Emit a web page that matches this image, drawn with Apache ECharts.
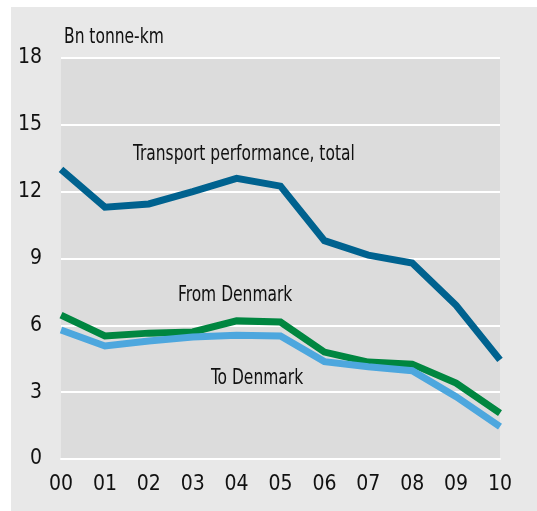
<!DOCTYPE html>
<html><head><meta charset="utf-8">
<script src="https://cdn.jsdelivr.net/npm/echarts@6/dist/echarts.min.js"></script>
<style>html,body{margin:0;padding:0;background:#fff}#c{width:537px;height:511px}</style>
</head><body><div id="c"></div>
<script>
const years = ['00','01','02','03','04','05','06','07','08','09','10'];
const total = [13.0, 11.3, 11.45, 12.0, 12.6, 12.25, 9.8, 9.15, 8.8, 6.9, 4.45];
const fromDK = [6.46, 5.52, 5.65, 5.7, 6.2, 6.15, 4.8, 4.35, 4.26, 3.41, 2.06];
const toDK = [5.79, 5.07, 5.3, 5.48, 5.56, 5.52, 4.37, 4.14, 3.96, 2.8, 1.45];
const yTicks = [0, 3, 6, 9, 12, 15, 18];
const labels = ['Bn tonne-km', 'Transport performance, total', 'From Denmark', 'To Denmark'];

const FONT = '"DejaVu Sans Condensed", "Liberation Sans Narrow", sans-serif';
const SX = 0.82;
const txt = (text, x, y) => ({
  type: 'text', x, y, scaleX: SX, z: 10, silent: true,
  style: { text, font: '21px ' + FONT, fill: '#111', textVerticalAlign: 'top' }
});
const chart = echarts.init(document.getElementById('c'));
const mk = (name, data, color) => ({
  name, type: 'line', data, symbol: 'none', smooth: false,
  lineStyle: { color, width: 7, cap: 'butt', join: 'miter' }, z: 3
});
chart.setOption({
  animation: false,
  backgroundColor: '#ffffff',
  graphic: [
    { type: 'rect', left: 11, top: 7, shape: { width: 526, height: 504 }, style: { fill: '#e8e8e8' }, z: -10, silent: true },
    txt(labels[0], 64, 27),
    txt(labels[1], 133, 144),
    txt(labels[2], 178, 285),
    txt(labels[3], 211, 368.5)
  ],
  grid: { left: 61, right: 37, top: 58, bottom: 52, show: true, backgroundColor: '#dcdcdc', borderWidth: 0 },
  xAxis: {
    type: 'category', data: years, boundaryGap: false,
    axisLine: { show: true, lineStyle: { color: '#ffffff', width: 2 } },
    axisTick: { show: false },
    axisLabel: { color: '#111', fontFamily: FONT, fontSize: 21, margin: 15 },
    splitLine: { show: false }
  },
  yAxis: {
    type: 'value', min: yTicks[0], max: yTicks[yTicks.length - 1], interval: 3,
    axisLine: { show: false }, axisTick: { show: false },
    axisLabel: { color: '#111', fontFamily: FONT, fontSize: 21, margin: 19 },
    splitLine: { show: true, lineStyle: { color: '#ffffff', width: 2 } }
  },
  series: [
    mk('Transport performance, total', total, '#00628f'),
    mk('From Denmark', fromDK, '#008640'),
    mk('To Denmark', toDK, '#4da7de')
  ]
});
</script></body></html>
